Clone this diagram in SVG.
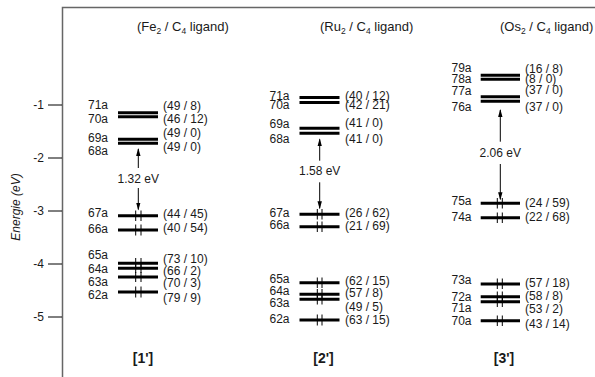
<svg xmlns="http://www.w3.org/2000/svg" width="595" height="377" viewBox="0 0 595 377">
<style>
text{font-family:"Liberation Sans",Arial,sans-serif;fill:#1a1a1a;font-size:12px}
.hdr{font-size:13px}
.sub{font-size:8.5px}
.bar{stroke:#000;stroke-width:3}
.e{stroke:#000;stroke-width:1}
.ax{stroke:#666;stroke-width:1.5;fill:none}
.tk{stroke:#000;stroke-width:1}
.arr{stroke:#000;stroke-width:1;fill:none}
.ev{text-anchor:middle}
.lab{font-weight:bold;font-size:14px;text-anchor:middle}
.tl{text-anchor:end}
</style>
<defs>
<marker id="a2" markerUnits="userSpaceOnUse" markerWidth="8" markerHeight="6" refX="7" refY="3" orient="auto" viewBox="0 0 8 6">
<path d="M0,0.8 L8,3 L0,5.2 Z" fill="#000"/>
</marker>
</defs>
<g id="axis">
<path class="ax" d="M62.5,377 V7.5 H595"/>
<line class="tk" x1="48" y1="105" x2="62" y2="105"/>
<line class="tk" x1="48" y1="158" x2="62" y2="158"/>
<line class="tk" x1="48" y1="211" x2="62" y2="211"/>
<line class="tk" x1="48" y1="264" x2="62" y2="264"/>
<line class="tk" x1="48" y1="317" x2="62" y2="317"/>
<text class="tl" x="44" y="109">-1</text>
<text class="tl" x="44" y="162">-2</text>
<text class="tl" x="44" y="215">-3</text>
<text class="tl" x="44" y="268">-4</text>
<text class="tl" x="44" y="321">-5</text>
<text transform="translate(20 207) rotate(-90)" text-anchor="middle" font-style="italic">Energie (eV)</text>
</g>
<g id="headers">
<text class="hdr" x="137" y="31">(Fe<tspan class="sub" dy="3">2</tspan><tspan dy="-3"> / C</tspan><tspan class="sub" dy="3">4</tspan><tspan dy="-3"> ligand)</tspan></text>
<text class="hdr" x="320" y="31">(Ru<tspan class="sub" dy="3">2</tspan><tspan dy="-3"> / C</tspan><tspan class="sub" dy="3">4</tspan><tspan dy="-3"> ligand)</tspan></text>
<text class="hdr" x="500" y="31">(Os<tspan class="sub" dy="3">2</tspan><tspan dy="-3"> / C</tspan><tspan class="sub" dy="3">4</tspan><tspan dy="-3"> ligand)</tspan></text>
</g>
<!-- Fe column -->
<g id="fe">
<g id="fe71a"><line class="bar" x1="118" y1="112.7" x2="158" y2="112.7"/><text x="88" y="109.3">71a</text><text x="163" y="110">(49 / 8)</text></g>
<g id="fe70a"><line class="bar" x1="118" y1="116.7" x2="158" y2="116.7"/><text x="88" y="122.5">70a</text><text x="163" y="123">(46 / 12)</text></g>
<g id="fe69a"><line class="bar" x1="118" y1="139.3" x2="158" y2="139.3"/><text x="88" y="141.5">69a</text><text x="163" y="136.7">(49 / 0)</text></g>
<g id="fe68a"><line class="bar" x1="118" y1="143.3" x2="158" y2="143.3"/><text x="88" y="155">68a</text><text x="163" y="150.7">(49 / 0)</text></g>
<g id="fe67a"><line class="bar" x1="118" y1="215.7" x2="158" y2="215.7"/><line class="e" x1="135.7" y1="210.5" x2="135.7" y2="221"/><line class="e" x1="141" y1="210.5" x2="141" y2="221"/><text x="88" y="216.7">67a</text><text x="163" y="217.7">(44 / 45)</text></g>
<g id="fe66a"><line class="bar" x1="118" y1="230" x2="158" y2="230"/><line class="e" x1="135.7" y1="224.5" x2="135.7" y2="235.5"/><line class="e" x1="141" y1="224.5" x2="141" y2="235.5"/><text x="88" y="232.7">66a</text><text x="163" y="231.7">(40 / 54)</text></g>
<g id="fe65a"><line class="bar" x1="118" y1="263.3" x2="158" y2="263.3"/><line class="e" x1="135.7" y1="258" x2="135.7" y2="268"/><line class="e" x1="141" y1="258" x2="141" y2="268"/><text x="88" y="259.3">65a</text><text x="163" y="263.3">(73 / 10)</text></g>
<g id="fe64a"><line class="bar" x1="118" y1="268.3" x2="158" y2="268.3"/><line class="e" x1="135.7" y1="263" x2="135.7" y2="273"/><line class="e" x1="141" y1="263" x2="141" y2="273"/><text x="88" y="272.7">64a</text><text x="163" y="275">(66 / 2)</text></g>
<g id="fe63a"><line class="bar" x1="118" y1="277" x2="158" y2="277"/><line class="e" x1="135.7" y1="272" x2="135.7" y2="282"/><line class="e" x1="141" y1="272" x2="141" y2="282"/><text x="88" y="286">63a</text><text x="163" y="286.7">(70 / 3)</text></g>
<g id="fe62a"><line class="bar" x1="118" y1="292" x2="158" y2="292"/><line class="e" x1="135.7" y1="286.5" x2="135.7" y2="297.5"/><line class="e" x1="141" y1="286.5" x2="141" y2="297.5"/><text x="88" y="299.3">62a</text><text x="163" y="301.7">(79 / 9)</text></g>
<text class="ev" x="138.3" y="183">1.32 eV</text>
<text class="lab" x="143" y="363">[1']</text>
</g>
<!-- Ru column -->
<g id="ru">
<g id="ru71a"><line class="bar" x1="299.5" y1="97.5" x2="339.5" y2="97.5"/><text x="269.5" y="100">71a</text><text x="345" y="100">(40 / 12)</text></g>
<g id="ru70a"><line class="bar" x1="299.5" y1="102.5" x2="339.5" y2="102.5"/><text x="269.5" y="108.5">70a</text><text x="345" y="108.5">(42 / 21)</text></g>
<g id="ru69a"><line class="bar" x1="299.5" y1="128.3" x2="339.5" y2="128.3"/><text x="269.5" y="128.3">69a</text><text x="345" y="127.3">(41 / 0)</text></g>
<g id="ru68a"><line class="bar" x1="299.5" y1="133.3" x2="339.5" y2="133.3"/><text x="269.5" y="143">68a</text><text x="345" y="142.7">(41 / 0)</text></g>
<g id="ru67a"><line class="bar" x1="299.5" y1="214.3" x2="339.5" y2="214.3"/><line class="e" x1="317.3" y1="209" x2="317.3" y2="219.5"/><line class="e" x1="322" y1="209" x2="322" y2="219.5"/><text x="269.5" y="216.7">67a</text><text x="345" y="216.7">(26 / 62)</text></g>
<g id="ru66a"><line class="bar" x1="299.5" y1="226.7" x2="339.5" y2="226.7"/><line class="e" x1="317.3" y1="221.5" x2="317.3" y2="232"/><line class="e" x1="322" y1="221.5" x2="322" y2="232"/><text x="269.5" y="229.3">66a</text><text x="345" y="229.7">(21 / 69)</text></g>
<g id="ru65a"><line class="bar" x1="299.5" y1="282.7" x2="339.5" y2="282.7"/><line class="e" x1="317.3" y1="277.5" x2="317.3" y2="288"/><line class="e" x1="322" y1="277.5" x2="322" y2="288"/><text x="269.5" y="283.3">65a</text><text x="345" y="285">(62 / 15)</text></g>
<g id="ru64a"><line class="bar" x1="299.5" y1="294.3" x2="339.5" y2="294.3"/><line class="e" x1="317.3" y1="289" x2="317.3" y2="299.5"/><line class="e" x1="322" y1="289" x2="322" y2="299.5"/><text x="269.5" y="295">64a</text><text x="345" y="297.3">(57 / 8)</text></g>
<g id="ru63a"><line class="bar" x1="299.5" y1="299.3" x2="339.5" y2="299.3"/><line class="e" x1="317.3" y1="294" x2="317.3" y2="304.5"/><line class="e" x1="322" y1="294" x2="322" y2="304.5"/><text x="269.5" y="306.7">63a</text><text x="345" y="310.7">(49 / 5)</text></g>
<g id="ru62a"><line class="bar" x1="299.5" y1="320" x2="339.5" y2="320"/><line class="e" x1="317.3" y1="314.5" x2="317.3" y2="325.5"/><line class="e" x1="322" y1="314.5" x2="322" y2="325.5"/><text x="269.5" y="323.3">62a</text><text x="345" y="324">(63 / 15)</text></g>
<text class="ev" x="319.7" y="175">1.58 eV</text>
<text class="lab" x="323.5" y="363">[2']</text>
</g>
<!-- Os column -->
<g id="os">
<g id="os79a"><line class="bar" x1="480.7" y1="75.3" x2="520" y2="75.3"/><text x="451.5" y="71.7">79a</text><text x="525" y="72.7">(16 / 8)</text></g>
<g id="os78a"><line class="bar" x1="480.7" y1="79.3" x2="520" y2="79.3"/><text x="451.5" y="83.3">78a</text><text x="525" y="83.3">(8 / 0)</text></g>
<g id="os77a"><line class="bar" x1="480.7" y1="96.7" x2="520" y2="96.7"/><text x="451.5" y="95">77a</text><text x="525" y="94.3">(37 / 0)</text></g>
<g id="os76a"><line class="bar" x1="480.7" y1="101.3" x2="520" y2="101.3"/><text x="451.5" y="110.5">76a</text><text x="525" y="110.5">(37 / 0)</text></g>
<g id="os75a"><line class="bar" x1="480.7" y1="203.3" x2="520" y2="203.3"/><line class="e" x1="497.3" y1="198" x2="497.3" y2="208.5"/><line class="e" x1="502.3" y1="198" x2="502.3" y2="208.5"/><text x="451.5" y="205">75a</text><text x="525" y="206.7">(24 / 59)</text></g>
<g id="os74a"><line class="bar" x1="480.7" y1="217.7" x2="520" y2="217.7"/><line class="e" x1="497.3" y1="212.5" x2="497.3" y2="223"/><line class="e" x1="502.3" y1="212.5" x2="502.3" y2="223"/><text x="451.5" y="220.7">74a</text><text x="525" y="220.7">(22 / 68)</text></g>
<g id="os73a"><line class="bar" x1="480.7" y1="284" x2="520" y2="284"/><line class="e" x1="497.3" y1="278.5" x2="497.3" y2="289"/><line class="e" x1="502.3" y1="278.5" x2="502.3" y2="289"/><text x="451.5" y="284">73a</text><text x="525" y="286.7">(57 / 18)</text></g>
<g id="os72a"><line class="bar" x1="480.7" y1="296.7" x2="520" y2="296.7"/><line class="e" x1="497.3" y1="291.5" x2="497.3" y2="302"/><line class="e" x1="502.3" y1="291.5" x2="502.3" y2="302"/><text x="451.5" y="300.7">72a</text><text x="525" y="300">(58 / 8)</text></g>
<g id="os71a"><line class="bar" x1="480.7" y1="301.7" x2="520" y2="301.7"/><line class="e" x1="497.3" y1="296.5" x2="497.3" y2="307"/><line class="e" x1="502.3" y1="296.5" x2="502.3" y2="307"/><text x="451.5" y="311.7">71a</text><text x="525" y="312.7">(53 / 2)</text></g>
<g id="os70a"><line class="bar" x1="480.7" y1="320.7" x2="520" y2="320.7"/><line class="e" x1="497.3" y1="315.5" x2="497.3" y2="326"/><line class="e" x1="502.3" y1="315.5" x2="502.3" y2="326"/><text x="451.5" y="325">70a</text><text x="525" y="328.3">(43 / 14)</text></g>
<text class="ev" x="500.3" y="156.7">2.06 eV</text>
<text class="lab" x="504" y="363">[3']</text>
</g>
<g id="connectors">
<line class="arr" x1="138.3" y1="168" x2="138.3" y2="149" marker-end="url(#a2)"/>
<line class="arr" x1="138.3" y1="188" x2="138.3" y2="209.5" marker-end="url(#a2)"/>
<line class="arr" x1="319.7" y1="160.7" x2="319.7" y2="139.3" marker-end="url(#a2)"/>
<line class="arr" x1="319.7" y1="182.3" x2="319.7" y2="208.3" marker-end="url(#a2)"/>
<line class="arr" x1="500.3" y1="141.7" x2="500.3" y2="110" marker-end="url(#a2)"/>
<line class="arr" x1="500.3" y1="164" x2="500.3" y2="199.3" marker-end="url(#a2)"/>
</g>
</svg>
